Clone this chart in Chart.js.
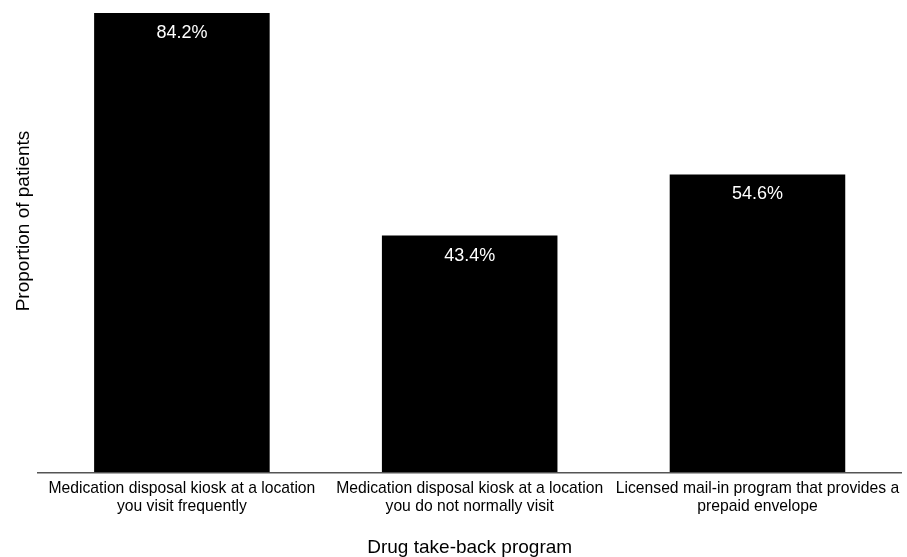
<!DOCTYPE html>
<html>
<head>
<meta charset="utf-8">
<script src="https://cdn.jsdelivr.net/npm/chart.js@4"></script>
<style>
  html, body { margin: 0; padding: 0; background: #fff; }
  #wrap { width: 907px; height: 557px; }
</style>
</head>
<body>
<div id="wrap"><canvas id="takeBackChart"></canvas></div>
<script>
const programs = [
    ["Medication disposal kiosk at a location", "you visit frequently"],
    ["Medication disposal kiosk at a location", "you do not normally visit"],
    ["Licensed mail-in program that provides a", "prepaid envelope"]
];
const proportions = [84.2, 43.4, 54.6];
const yTitle = "Proportion of patients";
const xTitle = "Drug take-back program";

const FONT = "'Liberation Sans', Arial, sans-serif";

// white % labels inside the top of each bar
const valueLabels = {
    id: 'valueLabels',
    afterDatasetsDraw(chart) {
        const ctx = chart.ctx;
        const meta = chart.getDatasetMeta(0);
        ctx.save();
        ctx.fillStyle = '#fff';
        ctx.font = '18px ' + FONT;
        ctx.textAlign = 'center';
        ctx.textBaseline = 'middle';
        meta.data.forEach((bar, i) => {
            ctx.fillText(proportions[i].toFixed(1) + '%', bar.x, bar.y + 20);
        });
        ctx.restore();
    }
};

// y title sits above the middle of the plot, so draw it by hand
const sideTitle = {
    id: 'sideTitle',
    afterDraw(chart) {
        const ctx = chart.ctx;
        ctx.save();
        ctx.translate(24, 221);
        ctx.rotate(-Math.PI / 2);
        ctx.fillStyle = '#000';
        ctx.font = '19px ' + FONT;
        ctx.textAlign = 'center';
        ctx.textBaseline = 'middle';
        ctx.fillText(yTitle, 0, 0);
        ctx.restore();
    }
};

new Chart(document.getElementById('takeBackChart'), {
    type: 'bar',
    data: {
        labels: programs,
        datasets: [{
            data: proportions,
            backgroundColor: '#000',
            borderWidth: 0,
            barPercentage: 0.61,
            categoryPercentage: 1
        }]
    },
    options: {
        responsive: true,
        maintainAspectRatio: false,
        animation: false,
        layout: { padding: { left: 38, right: 5, top: 0, bottom: 0 } },
        plugins: {
            legend: { display: false },
            tooltip: { enabled: false }
        },
        scales: {
            y: {
                display: false,
                min: 0,
                max: 86.6
            },
            x: {
                grid: { display: false, drawTicks: false },
                border: { display: true, color: '#555', width: 1.5 },
                ticks: {
                    color: '#000',
                    padding: 7,
                    maxRotation: 0,
                    autoSkip: false,
                    font: { family: FONT, size: 15.7, lineHeight: 1.17 }
                },
                title: {
                    display: true,
                    text: xTitle,
                    color: '#000',
                    padding: { top: 15, bottom: 0 },
                    font: { family: FONT, size: 19, lineHeight: 1 }
                }
            }
        }
    },
    plugins: [valueLabels, sideTitle]
});
</script>
</body>
</html>
